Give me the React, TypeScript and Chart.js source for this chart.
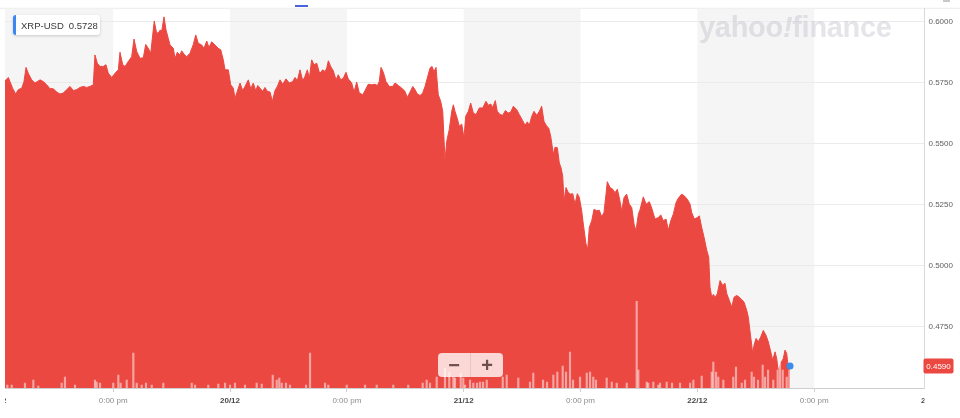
import React, { useEffect, useRef } from 'react';
import { Chart, registerables } from 'chart.js';

Chart.register(...registerables);

// ---------- data ----------
const SYMBOL = 'XRP-USD';
const LEGEND_VALUE = '0.5728';
const FIRST_DAY = 19; // hour 0 = 19/12 00:00
const X_MIN = 0.89;
const X_MAX = 95.33;
const Y_MIN = 0.45;
const Y_MAX = 0.6053;
const Y_TICKS = [0.475, 0.5, 0.525, 0.55, 0.575, 0.6];
const X_TICKS = [12, 24, 36, 48, 60, 72, 84];
const EDGE_TICKS = [0, 96];
const MORNING_BANDS = [0, 24, 48, 72]; // 00:00 - 12:00 shaded
const VOL_AXIS_MAX = 3810;

const priceHours = [
  0.89, 1.23, 1.4, 1.68, 1.99, 2.26, 2.61, 2.84, 3.05, 3.28, 3.63, 3.97, 4.21, 4.49, 4.82, 5.17, 5.51, 5.85, 6.2, 6.54,
  6.88, 7.23, 7.57, 7.91, 8.25, 8.59, 8.93, 9.28, 9.62, 9.96, 10.13, 10.37, 10.65, 10.99, 11.26, 11.5, 11.85, 12.19, 12.53, 12.7,
  12.98, 13.22, 13.55, 13.9, 14.14, 14.42, 14.76, 15.1, 15.34, 15.61, 15.86, 16.06, 16.22, 16.47, 16.74,
  16.81, 16.99, 17.22, 17.43, 17.66, 17.84, 18.18, 18.35, 18.59, 18.86, 19.04, 19.28, 19.55, 19.89, 20.23, 20.48, 20.74, 21.09, 21.33, 21.61,
  21.84, 22.12, 22.46, 22.8, 23.05, 23.31, 23.49, 23.83, 24.07, 24.34, 24.51, 24.75, 25.03, 25.3, 25.54, 25.88, 26.13, 26.39, 26.64, 26.85,
  27.08, 27.36, 27.59, 27.83, 28.11, 28.35, 28.62, 28.86, 29.14, 29.41, 29.75, 30.09, 30.44, 30.68, 30.91, 31.19, 31.47, 31.7, 31.94, 32.15,
  32.39, 32.63, 32.91, 33.17,
  33.24, 33.52, 33.76, 33.93, 34.1, 34.34, 34.61, 34.89, 35.12, 35.37, 35.64, 35.91, 36.15, 36.5, 36.74, 37.01, 37.28, 37.63, 37.87, 38.2,
  38.55, 38.89, 39.13, 39.33, 39.51, 39.75, 40.02, 40.36, 40.71, 40.95, 41.29, 41.64, 41.97, 42.21, 42.49, 42.77, 43.0, 43.24, 43.52, 43.79,
  44.03, 44.26, 44.54, 44.75, 44.95, 45.16, 45.39, 45.64, 45.85, 46.08, 46.26, 46.52, 46.77, 46.94, 47.11, 47.35, 47.55, 47.8, 48.03, 48.21,
  48.48, 48.72, 48.99, 49.27, 49.61,
  49.96, 50.29, 50.53, 50.78, 50.98, 51.25, 51.45, 51.73, 52.01, 52.28, 52.58, 52.83, 53.1, 53.45, 53.71, 54.06, 54.3, 54.54, 54.74, 54.99,
  55.22, 55.5, 55.77, 56.01, 56.25, 56.53, 56.73, 56.94, 57.21, 57.38, 57.62, 57.82, 58.0, 58.17, 58.31, 58.51, 58.75, 58.99, 59.2, 59.44,
  59.67, 59.88, 60.12, 60.29, 60.56, 60.74, 60.9, 61.15, 61.39, 61.66, 61.93, 62.18, 62.41, 62.62, 62.75, 63.03, 63.31, 63.54, 63.78, 63.98,
  64.23, 64.47, 64.74, 65.01, 65.26, 65.5, 65.7, 65.94, 66.11,
  66.45, 66.73, 67.07, 67.31, 67.65, 67.99, 68.24, 68.5, 68.78, 69.02, 69.27, 69.53, 69.81, 70.04, 70.39, 70.66, 70.97, 71.25, 71.42, 71.69,
  72.0, 72.2, 72.45, 72.69, 72.96, 73.17, 73.3, 73.48, 73.64, 73.85, 74.05, 74.33, 74.61, 74.84, 75.02, 75.28, 75.53, 75.77, 76.04, 76.31,
  76.56, 76.79, 77.07, 77.23, 77.48, 77.69, 77.82, 78.03, 78.26, 78.51, 78.77, 79.05, 79.29, 79.54, 79.74, 79.98, 80.15, 80.32, 80.56, 80.83,
  81.0, 81.18, 81.34, 81.52,
];

const prices = [
  0.5758, 0.5772, 0.5755, 0.5727, 0.5704, 0.5722, 0.5728, 0.5755, 0.5813, 0.5789, 0.5762, 0.5749, 0.5755, 0.5762, 0.5755, 0.5742, 0.5726, 0.5726, 0.5712, 0.5704,
  0.5708, 0.5722, 0.5735, 0.5718, 0.5722, 0.5731, 0.5735, 0.5731, 0.5735, 0.5742, 0.5864, 0.583, 0.5817, 0.5817, 0.5824, 0.5789, 0.5772, 0.5789, 0.5803, 0.5875,
  0.5824, 0.5817, 0.5837, 0.5857, 0.5929, 0.5878, 0.585, 0.5853, 0.5907, 0.5891, 0.5871, 0.5946, 0.6003, 0.5952, 0.5959,
  0.5966, 0.5962, 0.602, 0.5966, 0.5932, 0.5905, 0.5891, 0.585, 0.5875, 0.5864, 0.5881, 0.5867, 0.5857, 0.5871, 0.5907, 0.5946, 0.5912, 0.5905, 0.5891, 0.5921,
  0.5894, 0.5918, 0.5905, 0.5891, 0.5885, 0.5844, 0.5803, 0.5803, 0.5742, 0.5728, 0.5687, 0.5715, 0.5749, 0.5718, 0.5735, 0.5762, 0.5726, 0.5749, 0.5718, 0.5739,
  0.5728, 0.5715, 0.5731, 0.5715, 0.5712, 0.5674, 0.5718, 0.5735, 0.5762, 0.5744, 0.5766, 0.5749, 0.5755, 0.5772, 0.5758, 0.5803, 0.5758, 0.5776, 0.5803, 0.5769,
  0.5844, 0.5824, 0.583, 0.5793,
  0.5789, 0.5803, 0.5796, 0.581, 0.584, 0.5817, 0.5799, 0.5762, 0.5783, 0.5762, 0.5769, 0.5793, 0.5766, 0.5749, 0.5712, 0.5753, 0.5708, 0.5701, 0.5718, 0.5744,
  0.5742, 0.5744, 0.5739, 0.5755, 0.5813, 0.5793, 0.5755, 0.5735, 0.5735, 0.5749, 0.5739, 0.5728, 0.5715, 0.569, 0.5712, 0.5735, 0.5722, 0.5704, 0.5698, 0.5708,
  0.5735, 0.5769, 0.581, 0.5817, 0.5796, 0.5813, 0.5701, 0.5674, 0.5633, 0.5432, 0.5511, 0.5559, 0.5633, 0.566, 0.5633, 0.5603, 0.5572, 0.5581, 0.5524, 0.5613,
  0.5633, 0.5667, 0.5626, 0.562, 0.5647,
  0.5647, 0.5674, 0.5658, 0.5663, 0.5649, 0.5677, 0.5633, 0.562, 0.5617, 0.5636, 0.5626, 0.563, 0.5654, 0.564, 0.562, 0.5595, 0.5576, 0.559, 0.5576, 0.5613,
  0.5633, 0.5617, 0.5633, 0.5654, 0.5592, 0.5572, 0.5565, 0.5531, 0.5457, 0.5486, 0.5484, 0.5422, 0.5402, 0.5368, 0.5266, 0.5321, 0.53, 0.5294, 0.5296, 0.5253,
  0.5296, 0.528, 0.5226, 0.5171, 0.509, 0.5069, 0.5157, 0.5185, 0.5232, 0.5226, 0.5228, 0.5201, 0.5219, 0.5294, 0.5345, 0.5321, 0.5314, 0.53, 0.5314, 0.528,
  0.5226, 0.528, 0.5294, 0.5253, 0.5239, 0.5171, 0.5144, 0.5212, 0.523,
  0.5283, 0.5253, 0.5263, 0.5237, 0.5192, 0.5198, 0.5209, 0.5185, 0.5192, 0.5147, 0.5185, 0.5212, 0.5259, 0.5277, 0.5294, 0.5287, 0.5273, 0.5253, 0.5219, 0.5192,
  0.5198, 0.5205, 0.5157, 0.5117, 0.5065, 0.5035, 0.4913, 0.4872, 0.4883, 0.4872, 0.4886, 0.494, 0.492, 0.4929, 0.4886, 0.4859, 0.4831, 0.4872, 0.4879, 0.4872,
  0.4862, 0.4852, 0.4818, 0.4791, 0.4709, 0.4641, 0.4675, 0.4703, 0.4689, 0.4709, 0.4736, 0.4716, 0.4689, 0.4648, 0.4614, 0.4648, 0.4621, 0.4566, 0.4601, 0.4621,
  0.4655, 0.4641, 0.458, 0.459,
];

const volHours = [
  1.13, 1.58, 2.94, 3.8, 4.31, 6.71, 7.05, 8.08, 10.13, 10.31,
  10.65, 12.01, 12.53, 12.77, 13.39, 14.07, 14.42, 14.93, 15.37, 15.96,
  17.15, 20.07, 20.41, 21.77, 22.8, 23.49, 24.0, 24.51, 25.54, 26.74,
  27.26, 28.39, 28.8, 29.06, 29.31, 29.75, 30.16, 31.81, 32.22, 33.76,
  34.1, 35.99, 37.87, 39.07, 40.77, 42.31, 43.79, 44.2, 44.54, 45.23,
  46.08, 46.52, 46.94, 47.11, 47.7, 47.96, 48.14, 48.65, 48.99, 49.37,
  49.68, 49.99, 50.37, 52.01, 52.42, 53.61, 54.81, 55.15, 56.15, 56.56,
  57.21, 57.62, 58.17, 58.51, 58.92, 59.23, 59.95, 60.64, 60.98, 61.31,
  61.59, 62.69, 63.21, 63.72, 64.75, 65.77, 65.94, 66.8, 66.96, 67.48,
  67.99, 68.17, 68.85, 69.4, 70.22, 71.25, 71.59, 72.45, 73.48, 73.64,
  73.92, 74.15, 74.67, 75.69, 75.97, 76.56, 76.9, 77.58, 77.82, 78.23,
  78.71, 78.95, 79.26, 79.8, 80.25, 80.49, 80.77, 81.18, 81.45,
];

const volumes = [
  30, 30, 50, 80, 20, 50, 110, 30, 80, 60,
  50, 50, 130, 50, 80, 350, 50, 30, 50, 30,
  50, 50, 30, 30, 40, 50, 30, 50, 30, 50,
  40, 130, 80, 100, 50, 50, 30, 30, 350, 50,
  30, 30, 30, 30, 30, 30, 50, 80, 50, 110,
  200, 160, 110, 100, 150, 100, 30, 80, 50, 50,
  60, 60, 80, 110, 130, 100, 60, 150, 80, 60,
  130, 160, 220, 160, 360, 80, 110, 150, 160, 110,
  80, 100, 60, 50, 50, 870, 180, 60, 50, 60,
  30, 50, 60, 50, 50, 50, 80, 120, 160, 260,
  160, 110, 80, 110, 210, 50, 80, 160, 110, 80,
  230, 110, 180, 80, 180, 250, 180, 110, 180,
];

// ---------- styles ----------
const RED = '#ec4842';
const FONT = '"Liberation Sans", Arial, Helvetica, sans-serif';

const isDay = (v: number) => Math.round(v) % 24 === 0;
const xLabel = (v: number) => (isDay(v) ? `${FIRST_DAY + Math.round(v) / 24}/12` : '0:00 pm');

const bandsPlugin = {
  id: 'bands',
  beforeDraw(chart: any) {
    const { ctx, chartArea: a, scales } = chart;
    const x = scales.x;
    ctx.save();
    ctx.fillStyle = '#ebebeb';
    ctx.fillRect(0, a.top - 1, chart.width, 1);
    ctx.fillStyle = '#f5f5f5';
    MORNING_BANDS.forEach((start) => {
      const x0 = Math.max(a.left, x.getPixelForValue(start));
      const x1 = Math.min(a.right, x.getPixelForValue(start + 12));
      if (x1 > x0) ctx.fillRect(x0, a.top, x1 - x0, a.bottom - a.top);
    });
    ctx.restore();
  },
};

const edgeLabelsPlugin = {
  id: 'edgeLabels',
  afterDraw(chart: any) {
    const { ctx, chartArea: a, scales } = chart;
    const x = scales.x;
    ctx.save();
    ctx.beginPath();
    ctx.rect(a.left, a.bottom, a.right - a.left, chart.height - a.bottom);
    ctx.clip();
    ctx.font = `bold 8px ${FONT}`;
    ctx.fillStyle = '#4a4a4a';
    ctx.textAlign = 'center';
    ctx.textBaseline = 'middle';
    EDGE_TICKS.forEach((v) => ctx.fillText(xLabel(v), x.getPixelForValue(v), a.bottom + 12.8));
    ctx.restore();
  },
};

const priceTagPlugin = {
  id: 'priceTag',
  afterDraw(chart: any) {
    const { ctx, chartArea: a, scales } = chart;
    const v = prices[prices.length - 1];
    const py = scales.y.getPixelForValue(v);
    const x0 = a.right - 1;
    const w = 30;
    const h = 15;
    ctx.save();
    ctx.fillStyle = RED;
    ctx.beginPath();
    ctx.roundRect(x0, py - h / 2, w, h, 2);
    ctx.fill();
    ctx.fillStyle = '#ffffff';
    ctx.font = `8px ${FONT}`;
    ctx.textAlign = 'center';
    ctx.textBaseline = 'middle';
    ctx.fillText(v.toFixed(4), x0 + w / 2, py + 0.5);
    ctx.restore();
  },
};

export default function App() {
  const ref = useRef<HTMLCanvasElement>(null);

  useEffect(() => {
    const canvas = ref.current;
    if (!canvas) return;
    Chart.defaults.font.family = FONT;
    const priceData = priceHours.map((h, i) => ({ x: h, y: prices[i] }));
    const volData = volHours.map((h, i) => ({ x: h, y: volumes[i] }));
    const last = priceData.length - 1;

    const chart = new Chart(canvas, {
      type: 'line',
      data: {
        datasets: [
          {
            type: 'bar',
            label: 'Volume',
            data: volData,
            yAxisID: 'yv',
            backgroundColor: 'rgba(255,255,255,0.5)',
            barThickness: 1.5,
            order: 0,
          } as any,
          {
            type: 'line',
            label: SYMBOL,
            data: priceData,
            yAxisID: 'y',
            borderColor: RED,
            backgroundColor: RED,
            borderWidth: 1,
            fill: 'start',
            tension: 0,
            pointRadius: (c: any) => (c.dataIndex === last ? 3.5 : 0),
            pointHoverRadius: 0,
            pointBackgroundColor: '#3a8de8',
            pointBorderWidth: 0,
            order: 1,
          } as any,
        ],
      },
      options: {
        responsive: false,
        animation: false,
        devicePixelRatio: 1,
        layout: { padding: { left: 5, top: 7, right: 0, bottom: 0 } },
        plugins: { legend: { display: false }, tooltip: { enabled: false } },
        scales: {
          x: {
            type: 'linear',
            offset: false,
            min: X_MIN,
            max: X_MAX,
            afterBuildTicks: (s: any) => {
              s.ticks = X_TICKS.map((v) => ({ value: v }));
            },
            afterFit: (s: any) => {
              s.height = 30;
            },
            ticks: {
              autoSkip: false,
              maxRotation: 0,
              padding: 4,
              callback: (v: any) => xLabel(Number(v)),
              font: (c: any) => ({ size: 8, weight: c.tick && isDay(c.tick.value) ? 'bold' : 'normal' }),
              color: (c: any) => (c.tick && isDay(c.tick.value) ? '#4a4a4a' : '#8c8c8c'),
            },
            grid: { offset: false, drawOnChartArea: false, drawTicks: true, tickLength: 4, color: '#cfcfcf' },
            border: { color: '#cfcfcf' },
          },
          y: {
            position: 'right',
            min: Y_MIN,
            max: Y_MAX,
            afterBuildTicks: (s: any) => {
              s.ticks = Y_TICKS.map((v) => ({ value: v }));
            },
            afterFit: (s: any) => {
              s.width = 35.5;
            },
            ticks: {
              padding: 4,
              font: { size: 8 },
              color: '#5e5e5e',
              callback: (v: any) => Number(v).toFixed(4),
            },
            grid: { color: '#ebebeb', drawTicks: false },
            border: { color: '#d9d9d9' },
          },
          yv: { display: false, min: 0, max: VOL_AXIS_MAX },
        },
      } as any,
      plugins: [bandsPlugin, edgeLabelsPlugin, priceTagPlugin],
    });
    return () => chart.destroy();
  }, []);

  return (
    <div style={{ position: 'fixed', left: 0, top: 0, width: 960, height: 418, background: '#fff', overflow: 'hidden' }}>
      <canvas ref={ref} width={960} height={418} style={{ position: 'absolute', left: 0, top: 0, width: 960, height: 418 }} />
      <div style={{ position: 'absolute', left: 295, top: 5, width: 13, height: 2, background: '#4a63d8' }} />
      <div style={{ position: 'absolute', left: 943, top: 0, width: 7, height: 2, background: '#c8c8c8' }} />
      <div
        style={{
          position: 'absolute',
          left: 699,
          top: 11.5,
          fontFamily: FONT,
          fontWeight: 'bold',
          fontSize: 29,
          lineHeight: '30px',
          color: 'rgba(190,190,202,0.42)',
          letterSpacing: -0.3,
          whiteSpace: 'nowrap',
          pointerEvents: 'none',
        }}
      >
        yahoo<span style={{ fontStyle: 'italic' }}>!</span>finance
      </div>
      <div
        style={{
          position: 'absolute',
          left: 13,
          top: 15,
          width: 87,
          height: 20,
          boxSizing: 'border-box',
          background: '#fff',
          borderRadius: 3,
          borderLeft: '3px solid #3b86f2',
          boxShadow: '0 1px 3px rgba(0,0,0,0.18)',
          display: 'flex',
          alignItems: 'center',
          paddingLeft: 5,
          fontFamily: FONT,
          fontSize: 9.5,
          color: '#383838',
          whiteSpace: 'nowrap',
        }}
      >
        <span>{SYMBOL}</span>
        <span style={{ marginLeft: 5 }}>{LEGEND_VALUE}</span>
      </div>
      <div
        style={{
          position: 'absolute',
          left: 438,
          top: 353,
          width: 65,
          height: 24,
          borderRadius: 4,
          background: 'rgba(255,255,255,0.78)',
          display: 'flex',
          fontFamily: FONT,
          fontWeight: 'bold',
          fontSize: 20,
          color: '#6d4f4f',
        }}
      >
        <div style={{ width: 32, display: 'flex', alignItems: 'center', justifyContent: 'center', borderRight: '1px solid rgba(0,0,0,0.08)' }}>−</div>
        <div style={{ flex: 1, display: 'flex', alignItems: 'center', justifyContent: 'center' }}>+</div>
      </div>
    </div>
  );
}
